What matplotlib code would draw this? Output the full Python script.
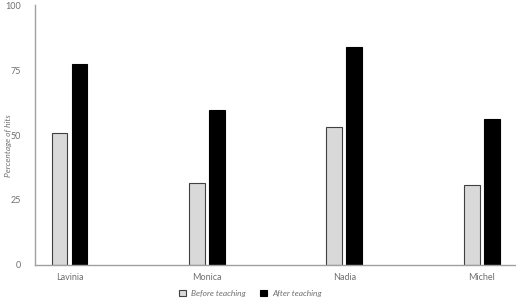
import matplotlib
matplotlib.use("Agg")
import matplotlib.pyplot as plt
import numpy as np

plt.rcParams['font.family'] = ['Lato', 'DejaVu Sans']

names = ["Lavinia", "Monica", "Nadia", "Michel"]
before = [50.8, 31.5, 53.0, 30.8]
after = [77.3, 59.6, 83.8, 56.2]
yticks = [0, 25, 50, 75, 100]

fig = plt.figure(figsize=(5.16, 3.0), dpi=100)
ax = fig.add_axes([0.068, 0.117, 0.932, 0.866])

x = np.arange(len(names))
w = 0.115
ax.bar(x - 0.073, before, w, color="#d9d9d9", edgecolor="#404040", linewidth=0.8, label="Before teaching")
ax.bar(x + 0.073, after, w, color="black", edgecolor="black", linewidth=0.8, label="After teaching")

ax.set_xlim(-0.25, 3.25)
ax.set_ylim(0, 100)
ax.set_yticks(yticks)
ax.set_xticks(x)
ax.set_xticklabels(names)
for s in ["top", "right"]:
    ax.spines[s].set_visible(False)
for s in ["left", "bottom"]:
    ax.spines[s].set_color("#a0a0a0")
    ax.spines[s].set_linewidth(1.0)
ax.tick_params(axis="both", length=0, labelsize=6.5, colors="#707070")
ax.tick_params(axis="y", pad=10)
ax.tick_params(axis="x", pad=6)
fig.text(0.016, 0.515, "Percentage of hits", fontsize=6, style="italic", color="#707070",
         rotation=90, ha="center", va="center")

leg = fig.legend(loc="lower center", bbox_to_anchor=(0.485, -0.015), ncol=2, frameon=False,
                 fontsize=6, handlelength=0.8, handleheight=0.8, columnspacing=1.8, handletextpad=0.6)
for t in leg.get_texts():
    t.set_style("italic")
    t.set_color("#707070")

fig.savefig("out.png", dpi=100)
